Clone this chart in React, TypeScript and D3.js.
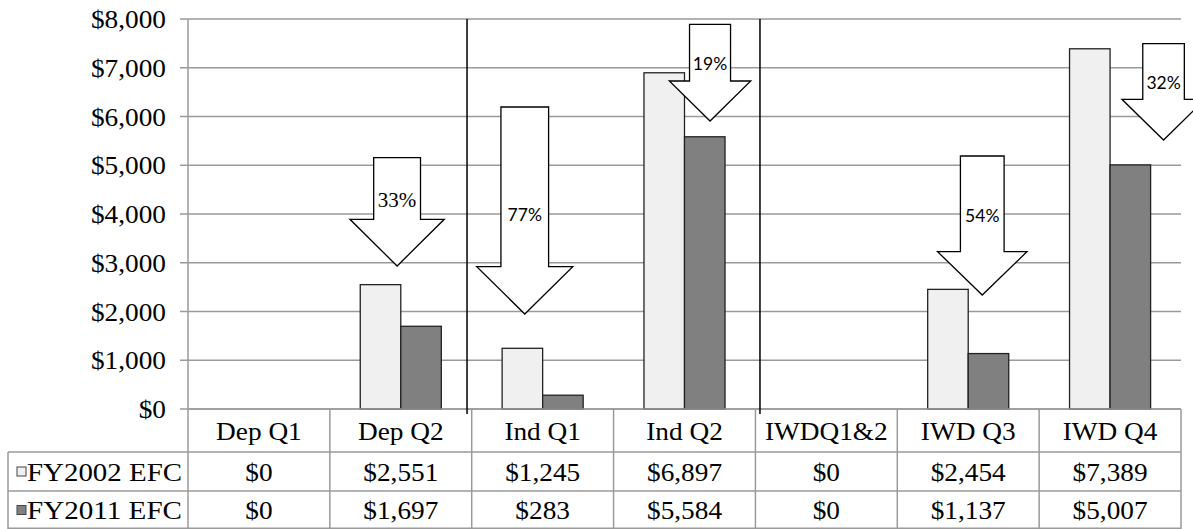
import React from "react";
import * as d3 from "d3";

// Expected family contribution by dependency group / quartile
const categories = ["Dep Q1", "Dep Q2", "Ind Q1", "Ind Q2", "IWDQ1&2", "IWD Q3", "IWD Q4"];
const seriesNames = ["FY2002 EFC", "FY2011 EFC"];
const fy2002 = [0, 2551, 1245, 6897, 0, 2454, 7389];
const fy2011 = [0, 1697, 283, 5584, 0, 1137, 5007];
const yTicks = [0, 1000, 2000, 3000, 4000, 5000, 6000, 7000, 8000];

// Group dividers, in category units from the left edge of the plot
const dividers = [1.967, 4.032];

// Drop callouts: horizontal placement in category units, vertical extents in dollars
const drops = [
  { label: "33%", cat: "Dep Q2", dx: -0.026, shaft: 0.33, head: 0.665, top: 5155, neck: 3891, tip: 2933, base: 4144, serif: true },
  { label: "77%", cat: "Ind Q1", dx: -0.126, shaft: 0.336, head: 0.677, top: 6195, neck: 2919, tip: 1949, base: 3856, serif: false },
  { label: "19%", cat: "Ind Q2", dx: 0.18, shaft: 0.289, head: 0.574, top: 7891, neck: 6728, tip: 5908, base: 6954, serif: false },
  { label: "54%", cat: "IWD Q3", dx: 0.099, shaft: 0.308, head: 0.63, top: 5190, neck: 3227, tip: 2338, base: 3842, serif: false },
  { label: "32%", cat: "IWD Q4", dx: 0.377, shaft: 0.293, head: 0.587, top: 7494, neck: 6353, tip: 5518, base: 6554, serif: false },
];

const W = 1193;
const H = 529;
const plotLeft = 188;
const plotRight = 1181;
const plotTop = 19;
const plotBottom = 409;
const rowBottoms = [452, 491, 529];
const legendLeft = 8;

const serif = "'Liberation Serif', 'Times New Roman', serif";
const sans = "Lato, 'Open Sans', sans-serif";
const gridColor = "#9a9a9a";
const fills = ["#f0f0f0", "#808080"];

function STxt({ x, y, anchor, children, size = 26 }: any) {
  return (
    <g transform={`translate(${x},${y}) scale(1.05,1)`}>
      <text x={0} y={0} textAnchor={anchor} fontFamily={serif} fontSize={size} fill="#000">
        {children}
      </text>
    </g>
  );
}

export default function App() {
  const x = d3.scaleBand<string>().domain(categories).range([plotLeft, plotRight]).paddingInner(0).paddingOuter(0);
  const bw = x.bandwidth();
  const xs = d3.scaleBand<string>().domain(seriesNames).range([0, bw]).paddingInner(0).paddingOuter(0.75);
  const y = d3.scaleLinear().domain([0, 8000]).range([plotBottom, plotTop]);
  const values = [fy2002, fy2011];

  const boundaries = categories.map((c) => x(c) as number).concat([plotRight]);
  const rowCenters = [
    (plotBottom + rowBottoms[0]) / 2,
    (rowBottoms[0] + rowBottoms[1]) / 2,
    (rowBottoms[1] + rowBottoms[2]) / 2,
  ];

  const arrowPath = (d: any) => {
    const cx = (x(d.cat) as number) + bw / 2 + d.dx * bw;
    const s = (d.shaft * bw) / 2;
    const h = (d.head * bw) / 2;
    const yt = y(d.top);
    const yn = y(d.neck);
    const yp = y(d.tip);
    const p = d3.path();
    p.moveTo(cx - s, yt);
    p.lineTo(cx + s, yt);
    p.lineTo(cx + s, yn);
    p.lineTo(cx + h, yn);
    p.lineTo(cx, yp);
    p.lineTo(cx - h, yn);
    p.lineTo(cx - s, yn);
    p.closePath();
    return { d: p.toString(), cx };
  };

  return (
    <svg width={W} height={H} style={{ position: "absolute", left: 0, top: 0, background: "#fff" }}>
      <rect x={0} y={0} width={W} height={H} fill="#fff" />
      {/* gridlines and tick marks */}
      {yTicks.map((t) => (
        <line key={t} x1={plotLeft - 8} x2={plotRight} y1={y(t)} y2={y(t)} stroke={gridColor} strokeWidth={1.5} />
      ))}
      {/* y axis */}
      <line x1={plotLeft} x2={plotLeft} y1={plotTop} y2={plotBottom} stroke={gridColor} strokeWidth={1.5} />
      {yTicks.map((t) => (
        <STxt key={t} x={166} y={y(t) + 9} anchor="end">
          {d3.format("$,")(t)}
        </STxt>
      ))}

      {/* bars */}
      {values.map((vals, si) =>
        categories.map((c, ci) =>
          vals[ci] > 0 ? (
            <rect
              key={`${si}-${c}`}
              x={(x(c) as number) + (xs(seriesNames[si]) as number)}
              y={y(vals[ci])}
              width={xs.bandwidth()}
              height={y(0) - y(vals[ci])}
              fill={fills[si]}
              stroke="#222"
              strokeWidth={1.3}
            />
          ) : null
        )
      )}

      {/* data table */}
      <g stroke={gridColor} strokeWidth={1.5} fill="none">
        <line x1={plotLeft} x2={plotRight} y1={plotBottom} y2={plotBottom} />
        <line x1={legendLeft} x2={plotRight} y1={rowBottoms[0]} y2={rowBottoms[0]} />
        <line x1={legendLeft} x2={plotRight} y1={rowBottoms[1]} y2={rowBottoms[1]} />
        <line x1={legendLeft} x2={plotRight} y1={rowBottoms[2] - 0.75} y2={rowBottoms[2] - 0.75} />
        <line x1={legendLeft} x2={legendLeft} y1={rowBottoms[0]} y2={H} />
        {boundaries.map((b, i) => (
          <line key={i} x1={b} x2={b} y1={plotBottom} y2={H} />
        ))}
      </g>
      {categories.map((c) => {
        const cx = (x(c) as number) + bw / 2;
        return (
          <g key={c}>
            <STxt x={cx} y={rowCenters[0] + 9} anchor="middle">{c}</STxt>
            {values.map((vals, si) => (
              <STxt key={si} x={cx} y={rowCenters[si + 1] + 9} anchor="middle">
                {d3.format("$,")(vals[categories.indexOf(c)])}
              </STxt>
            ))}
          </g>
        );
      })}
      {seriesNames.map((s, si) => (
        <g key={s}>
          <rect x={17} y={rowCenters[si + 1] - 4.5} width={9} height={9} fill={fills[si]} stroke="#444" strokeWidth={1} />
          <text
            x={27}
            y={rowCenters[si + 1] + 9}
            fontFamily={serif}
            fontSize={26}
            textLength={155}
            lengthAdjust="spacingAndGlyphs"
          >
            {s}
          </text>
        </g>
      ))}

      {/* group dividers */}
      {dividers.map((d, i) => {
        const px = plotLeft + d * bw;
        return <line key={i} x1={px} x2={px} y1={plotTop} y2={plotBottom + 5} stroke="#000" strokeWidth={1.5} />;
      })}

      {/* drop callouts */}
      {drops.map((d) => {
        const a = arrowPath(d);
        return (
          <g key={d.label}>
            <path d={a.d} fill="#fff" stroke="#000" strokeWidth={1.3} strokeLinejoin="miter" />
            <text
              x={a.cx}
              y={y(d.base)}
              textAnchor="middle"
              fontFamily={d.serif ? serif : sans}
              fontSize={d.serif ? 21 : 17.5}
              fill="#000"
            >
              {d.label}
            </text>
          </g>
        );
      })}
    </svg>
  );
}
